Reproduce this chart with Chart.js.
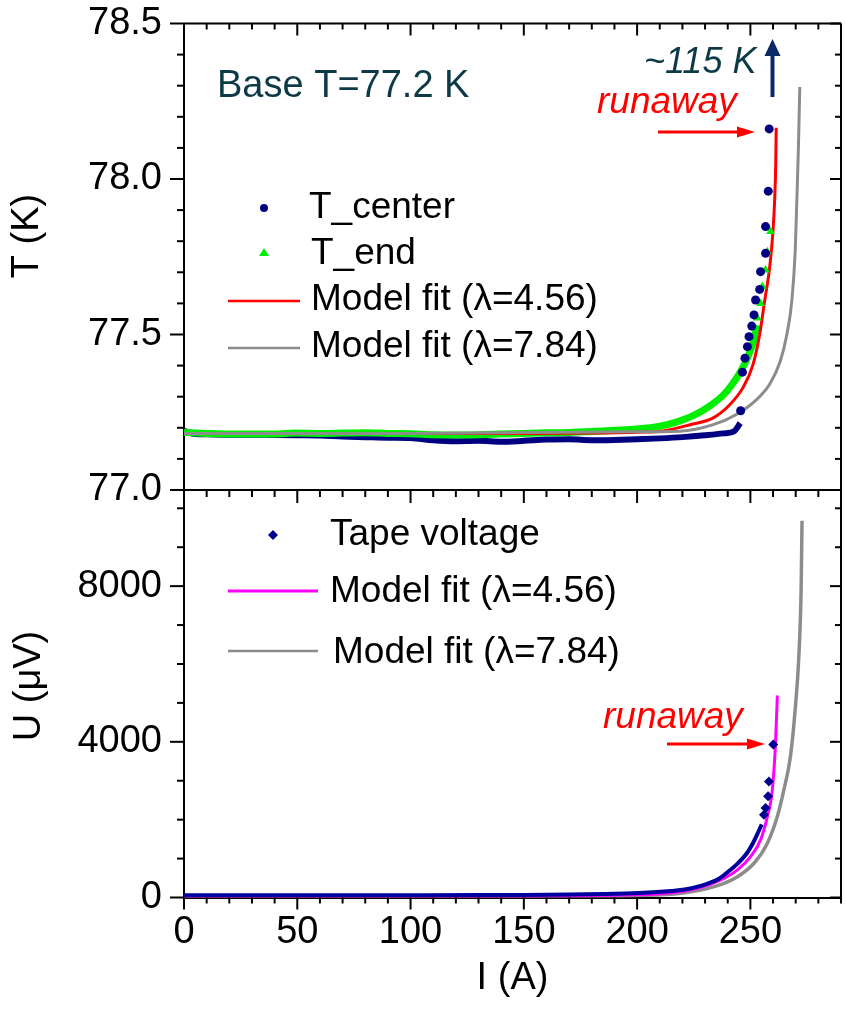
<!DOCTYPE html>
<html>
<head>
<meta charset="utf-8">
<script src="https://cdn.jsdelivr.net/npm/chart.js@4.4.1/dist/chart.umd.min.js"></script>
<style>
  html, body { margin: 0; padding: 0; background: #fff; }
  #wrap { width: 846px; height: 1012px; position: relative; }
</style>
</head>
<body>
<div id="wrap"><canvas id="runawayChart" width="846" height="1012"></canvas></div>
<script>
// Top panel: temperature vs current
var tCenterI = [0, 5, 10, 20, 30, 40, 50, 60, 70, 80, 90, 100, 110, 120, 130, 140, 150, 160, 170, 180, 190, 200, 210, 220, 230, 238, 243, 245.5];
var tCenterT = [77.19, 77.18, 77.179, 77.178, 77.178, 77.177, 77.176, 77.175, 77.172, 77.170, 77.168, 77.167, 77.160, 77.157, 77.158, 77.155, 77.158, 77.162, 77.163, 77.160, 77.161, 77.163, 77.166, 77.170, 77.176, 77.182, 77.19, 77.215];
var tCenterRiseI = [245.7, 246.5, 247.6, 248.7, 249.4, 250.6, 251.6, 252.3, 254.1, 254.5, 256.7, 256.7, 257.9, 258.3];
var tCenterRiseT = [77.255, 77.379, 77.424, 77.461, 77.493, 77.527, 77.563, 77.611, 77.645, 77.702, 77.761, 77.847, 77.961, 78.161];

var tEndI = [0, 10, 20, 30, 40, 50, 60, 70, 80, 90, 100, 110, 120, 130, 140, 150, 160, 170, 180, 190, 200, 210, 218, 225, 232, 238, 242, 246, 249, 251.5, 253];
var tEndT = [77.185, 77.182, 77.18, 77.18, 77.18, 77.183, 77.182, 77.183, 77.184, 77.182, 77.181, 77.178, 77.177, 77.178, 77.18, 77.182, 77.184, 77.185, 77.188, 77.192, 77.196, 77.205, 77.22, 77.24, 77.27, 77.305, 77.34, 77.385, 77.43, 77.48, 77.53];
var tEndRiseI = [251.8, 253.1, 254.5, 255.3, 256.7, 257.5, 258.9];
var tEndRiseT = [77.505, 77.553, 77.600, 77.654, 77.707, 77.766, 77.831];

var fitA_I = [0, 50, 100, 150, 180, 200, 211.6, 223.4, 233.6, 241, 246.8, 251.2, 254.1, 256.3, 258.5, 260, 260.7, 261.2, 261.4];
var fitA_T = [77.182, 77.182, 77.182, 77.182, 77.183, 77.186, 77.19, 77.21, 77.232, 77.275, 77.33, 77.404, 77.50, 77.608, 77.715, 77.834, 77.93, 78.05, 78.165];
var fitB_I = [0, 100, 198, 218.9, 233.6, 243.8, 252.6, 258.5, 263.2, 266.1, 268.3, 269.8, 270.5, 271.2, 271.8];
var fitB_T = [77.182, 77.182, 77.187, 77.189, 77.21, 77.243, 77.29, 77.34, 77.414, 77.50, 77.608, 77.77, 77.93, 78.1, 78.296];

// Bottom panel: tape voltage vs current
var tapeI = [0, 20, 50, 80, 100, 130, 150, 170, 185, 195, 205, 215, 221, 228, 235.5, 241, 244, 248.6, 251, 253, 255];
var tapeU = [60, 60, 58, 60, 60, 62, 65, 75, 90, 105, 130, 170, 205, 300, 460, 700, 850, 1150, 1380, 1620, 1880];
var tapeRiseI = [256.0, 256.7, 257.8, 258.2, 260.1];
var tapeRiseU = [2125, 2300, 2600, 2980, 3930];

var fitUA_I = [0, 150, 200, 212, 226.7, 237, 244.3, 250.1, 254.5, 257.5, 259.7, 261.1, 261.9];
var fitUA_U = [30, 35, 70, 100, 237, 450, 708, 1050, 1480, 2080, 2770, 3970, 5190];
var fitUB_I = [0, 150, 200, 219.4, 234, 244.3, 251.6, 257.5, 261.9, 264.8, 267.7, 269.9, 271.4, 272.4, 272.8];
var fitUB_U = [10, 15, 50, 108, 278, 536, 880, 1396, 2080, 2770, 3627, 4915, 6200, 7920, 9680];

// tick labels
var uTicks = [0, 4000, 8000];
var tTicks = [77.0, 77.5, 78.0, 78.5];

var font = '"Liberation Sans", Arial, sans-serif';

function pts(xs, ys) {
  return xs.map(function(x, i) { return {x: x, y: ys[i]}; });
}

function line(ctx, x1, y1, x2, y2) {
  ctx.beginPath();
  ctx.moveTo(x1, y1);
  ctx.lineTo(x2, y2);
  ctx.stroke();
}

function arrow(ctx, x1, y1, x2, y2, color, w, headLen, headW) {
  var a = Math.atan2(y2 - y1, x2 - x1);
  var bx = x2 - headLen * Math.cos(a), by = y2 - headLen * Math.sin(a);
  ctx.strokeStyle = color;
  ctx.fillStyle = color;
  ctx.lineWidth = w;
  line(ctx, x1, y1, bx, by);
  ctx.beginPath();
  ctx.moveTo(x2, y2);
  ctx.lineTo(bx + headW / 2 * Math.sin(a), by - headW / 2 * Math.cos(a));
  ctx.lineTo(bx - headW / 2 * Math.sin(a), by + headW / 2 * Math.cos(a));
  ctx.closePath();
  ctx.fill();
}

// y axes: fixed width, no extra label padding above/below the stack
function fixY(scale) {
  scale.width = 184;
  scale.paddingTop = 0;
  scale.paddingBottom = 0;
}

// frame, inward/outward tick marks, legends and notes
var decorations = {
  id: 'decorations',
  afterDraw: function(chart) {
    var ctx = chart.ctx;
    var x = chart.scales.x, yT = chart.scales.yT, yU = chart.scales.yU;
    var L = chart.chartArea.left, R = chart.chartArea.right;
    var top = yT.top, mid = yT.bottom, bot = yU.bottom;
    ctx.save();
    ctx.strokeStyle = '#000';
    ctx.lineWidth = 2;
    line(ctx, L, top, R, top);
    line(ctx, R, top, R, bot);
    line(ctx, L, mid, R, mid);

    var v, p, major;
    for (v = 0; v <= 290; v += 10) {
      p = x.getPixelForValue(v);
      major = v % 50 === 0;
      line(ctx, p, bot, p, bot + (major ? 12 : 6));
      line(ctx, p, top, p, top + (major ? 12 : 6));
      line(ctx, p, mid, p, mid + (major ? 13 : 7));
    }
    for (v = 0; v <= 15; v++) {
      p = yT.getPixelForValue(77 + v / 10);
      major = v % 5 === 0;
      line(ctx, L - (major ? 14 : 7), p, L, p);
      line(ctx, R - (major ? 11 : 6), p, R, p);
    }
    for (v = 0; v <= 10000; v += 1000) {
      p = yU.getPixelForValue(v);
      major = v % 4000 === 0;
      line(ctx, L - (major ? 14 : 7), p, L, p);
      line(ctx, R - (major ? 11 : 6), p, R, p);
    }

    // axis titles
    ctx.fillStyle = '#000';
    ctx.font = '38px ' + font;
    ctx.textAlign = 'center';
    ctx.textBaseline = 'middle';
    ctx.save();
    ctx.translate(28, 236);
    ctx.rotate(-Math.PI / 2);
    ctx.fillText('T (K)', 0, 0);
    ctx.restore();
    ctx.save();
    ctx.translate(30, 686);
    ctx.rotate(-Math.PI / 2);
    ctx.fillText('U (\u03bcV)', 0, 0);
    ctx.restore();

    // legend, top panel
    ctx.textAlign = 'left';
    ctx.textBaseline = 'alphabetic';
    ctx.font = '37px ' + font;
    ctx.fillStyle = '#000080';
    ctx.beginPath(); ctx.arc(264, 208, 4, 0, Math.PI * 2); ctx.fill();
    ctx.fillStyle = '#00ee00';
    ctx.beginPath(); ctx.moveTo(264, 248); ctx.lineTo(269, 256); ctx.lineTo(259, 256); ctx.closePath(); ctx.fill();
    ctx.lineWidth = 2.5;
    ctx.strokeStyle = '#ff0000'; line(ctx, 228, 301, 300, 301);
    ctx.strokeStyle = '#8c8c8c'; line(ctx, 228, 348, 300, 348);
    ctx.fillStyle = '#000';
    ctx.fillText('T_center', 309, 218);
    ctx.fillText('T_end', 311, 264);
    ctx.fillText('Model fit (\u03bb=4.56)', 311, 310);
    ctx.fillText('Model fit (\u03bb=7.84)', 311, 357);

    // legend, bottom panel
    ctx.fillStyle = '#000090';
    ctx.beginPath(); ctx.moveTo(273, 530); ctx.lineTo(278, 535); ctx.lineTo(273, 540); ctx.lineTo(268, 535); ctx.closePath(); ctx.fill();
    ctx.lineWidth = 3;
    ctx.strokeStyle = '#ff00ff'; line(ctx, 228, 591, 318, 591);
    ctx.lineWidth = 2.5;
    ctx.strokeStyle = '#8c8c8c'; line(ctx, 228, 651, 318, 651);
    ctx.fillStyle = '#000';
    ctx.fillText('Tape voltage', 330, 545);
    ctx.fillText('Model fit (\u03bb=4.56)', 330, 602);
    ctx.fillText('Model fit (\u03bb=7.84)', 333, 663);

    // notes
    ctx.fillStyle = '#0e3a48';
    ctx.font = '38px ' + font;
    ctx.fillText('Base T=77.2 K', 217, 97);
    ctx.font = 'italic 36px ' + font;
    ctx.fillText('~115 K', 644, 73);
    arrow(ctx, 772.5, 97, 772.5, 39, '#0b2a68', 4, 17, 16);
    ctx.fillStyle = '#ff0000';
    ctx.font = 'italic 37px ' + font;
    ctx.fillText('runaway', 597, 113);
    ctx.fillStyle = '#ff0000';
    ctx.fillText('runaway', 603, 728);
    arrow(ctx, 658, 132, 755, 132, '#ff0000', 3, 18, 11);
    arrow(ctx, 667, 744, 765, 744, '#ff0000', 3, 18, 11);
    ctx.restore();
  }
};

var ctx = document.getElementById('runawayChart').getContext('2d');
var runawayChart = new Chart(ctx, {
  type: 'scatter',
  data: {
    datasets: [
      {label: 'T_center', data: pts(tCenterRiseI, tCenterRiseT), yAxisID: 'yT', order: 0,
        pointStyle: 'circle', pointRadius: 4.5, backgroundColor: '#000080', borderWidth: 0},
      {label: 'T_end', data: pts(tEndRiseI, tEndRiseT), yAxisID: 'yT', order: 1,
        pointStyle: 'triangle', pointRadius: 5, backgroundColor: '#00ee00', borderWidth: 0},
      {label: 'Model fit (7.84)', data: pts(fitB_I, fitB_T), yAxisID: 'yT', order: 2,
        showLine: true, pointRadius: 0, borderColor: '#8c8c8c', borderWidth: 3, cubicInterpolationMode: 'monotone'},
      {label: 'Model fit (4.56)', data: pts(fitA_I, fitA_T), yAxisID: 'yT', order: 3,
        showLine: true, pointRadius: 0, borderColor: '#ff0000', borderWidth: 3, cubicInterpolationMode: 'monotone'},
      {label: 'T_end band', data: pts(tEndI, tEndT), yAxisID: 'yT', order: 4,
        showLine: true, pointRadius: 0, borderColor: '#00ee00', borderWidth: 7, cubicInterpolationMode: 'monotone'},
      {label: 'T_center band', data: pts(tCenterI, tCenterT), yAxisID: 'yT', order: 5,
        showLine: true, pointRadius: 0, borderColor: '#000080', borderWidth: 6, cubicInterpolationMode: 'monotone'},

      {label: 'Tape voltage', data: pts(tapeRiseI, tapeRiseU), yAxisID: 'yU', order: 0,
        pointStyle: 'rectRot', pointRadius: 5, backgroundColor: '#000090', borderWidth: 0},
      {label: 'Tape band', data: pts(tapeI, tapeU), yAxisID: 'yU', order: 1,
        showLine: true, pointRadius: 0, borderColor: '#0000a0', borderWidth: 4, cubicInterpolationMode: 'monotone'},
      {label: 'U fit (4.56)', data: pts(fitUA_I, fitUA_U), yAxisID: 'yU', order: 2,
        showLine: true, pointRadius: 0, borderColor: '#ff00ff', borderWidth: 3, cubicInterpolationMode: 'monotone'},
      {label: 'U fit (7.84)', data: pts(fitUB_I, fitUB_U), yAxisID: 'yU', order: 3,
        showLine: true, pointRadius: 0, borderColor: '#8c8c8c', borderWidth: 3.5, cubicInterpolationMode: 'monotone'}
    ]
  },
  options: {
    responsive: false,
    animation: false,
    layout: {padding: {left: 0, right: 2, top: 23.5, bottom: 0}},
    plugins: {legend: {display: false}, tooltip: {enabled: false}},
    scales: {
      x: {
        type: 'linear', position: 'bottom', min: 0, max: 290,
        grid: {display: false, drawTicks: false},
        border: {display: true, color: '#000', width: 2},
        ticks: {stepSize: 50, includeBounds: false, padding: 12, color: '#000', font: {family: font, size: 38}},
        title: {display: true, text: 'I (A)', color: '#000', font: {family: font, size: 38}, padding: {top: 0, bottom: 11}},
        afterFit: function(scale) { scale.height = 114.5; }
      },
      yU: {
        type: 'linear', position: 'left', stack: 'panels', stackWeight: 407.5, min: 0, max: 10470,
        grid: {display: false, drawTicks: false},
        border: {display: true, color: '#000', width: 2},
        ticks: {padding: 22, color: '#000', font: {family: font, size: 38},
          callback: function(v) { return String(v); }},
        afterBuildTicks: function(scale) { scale.ticks = uTicks.map(function(v) { return {value: v}; }); },
        afterFit: fixY
      },
      yT: {
        type: 'linear', position: 'left', stack: 'panels', stackWeight: 466.5, min: 77, max: 78.5,
        grid: {display: false, drawTicks: false},
        border: {display: true, color: '#000', width: 2},
        ticks: {padding: 22, color: '#000', font: {family: font, size: 38},
          callback: function(v) { return v.toFixed(1); }},
        afterBuildTicks: function(scale) { scale.ticks = tTicks.map(function(v) { return {value: v}; }); },
        afterFit: fixY
      }
    }
  },
  plugins: [decorations]
});
</script>
</body>
</html>
